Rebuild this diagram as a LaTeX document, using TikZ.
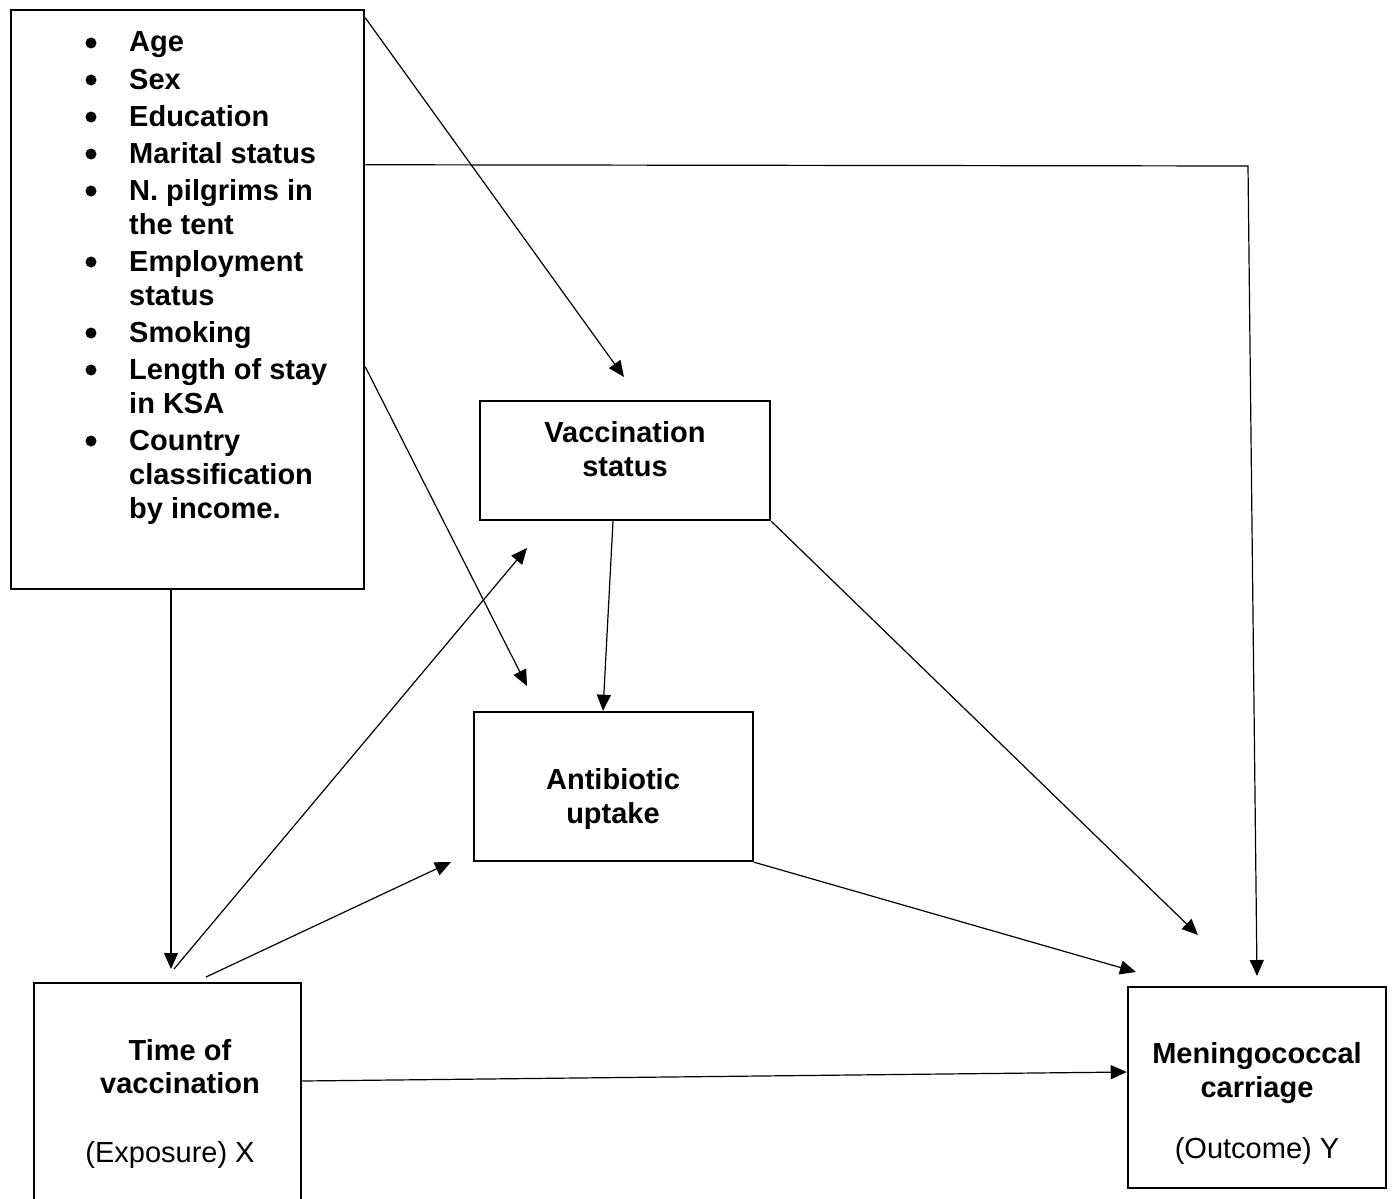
\documentclass[tikz,border=0pt]{standalone}
\usepackage{fontspec}
\setmainfont{Liberation Sans}
\usetikzlibrary{arrows.meta,calc}

\begin{document}
\begin{tikzpicture}[x=1pt,y=-1pt,
  box/.style={draw, line width=2.5pt, inner sep=0pt},
  conn/.style={line width=1.2pt},
  arr/.style={conn, -{Triangle[length=16pt,width=14pt]}},
  lbl/.style={font=\fontsize{29}{34}\selectfont\bfseries, anchor=base, inner sep=0pt},
  sub/.style={font=\fontsize{29}{34}\selectfont, anchor=base, inner sep=0pt},
  itemtext/.style={font=\fontsize{29}{34}\selectfont\bfseries, anchor=base west, inner sep=0pt},
  dot/.style={circle, fill, inner sep=0pt, minimum size=11pt}]

\useasboundingbox (0,0) rectangle (1392,1199);
\clip (0,0) rectangle (1392,1199);

% boxes
\node[box, minimum width=353pt, minimum height=579pt] (cov) at (187.5,299.5) {};
\node[box, minimum width=290pt, minimum height=119pt] (vac) at (625,460.5) {};
\node[box, minimum width=279pt, minimum height=149pt] (abx) at (613.5,786.5) {};
\node[box, minimum width=267pt, minimum height=227pt] (tim) at (167.5,1096.5) {};
\node[box, minimum width=258pt, minimum height=201pt] (men) at (1257,1087.5) {};

% covariate list
\foreach \y/\n in {52/1,89/2,126/3,163/4,200/5,271/6,342/7,379/8,450/9}
  \node[dot] (b\n) at (91,\y-9) {};
\node[itemtext] (i1)  at (129,52)  {Age};
\node[itemtext] (i2)  at (129,89)  {Sex};
\node[itemtext] (i3)  at (129,126) {Education};
\node[itemtext] (i4)  at (129,163) {Marital status};
\node[itemtext] (i5a) at (129,200) {N. pilgrims in};
\node[itemtext] (i5b) at (129,234) {the tent};
\node[itemtext] (i6a) at (129,271) {Employment};
\node[itemtext] (i6b) at (129,305) {status};
\node[itemtext] (i7)  at (129,342) {Smoking};
\node[itemtext] (i8a) at (129,379) {Length of stay};
\node[itemtext] (i8b) at (129,413) {in KSA};
\node[itemtext] (i9a) at (129,450) {Country};
\node[itemtext] (i9b) at (129,484) {classification};
\node[itemtext] (i9c) at (129,518) {by income.};

% box labels
\node[lbl] (vac1) at (625,442) {Vaccination};
\node[lbl] (vac2) at (625,476) {status};
\node[lbl] (abx1) at (613,789) {Antibiotic};
\node[lbl] (abx2) at (613,823) {uptake};
\node[lbl] (tim1) at (180,1060) {Time of};
\node[lbl] (tim2) at (180,1093) {vaccination};
\node[sub] (tim3) at (170,1162) {(Exposure) X};
\node[lbl] (men1) at (1257,1063) {Meningococcal};
\node[lbl] (men2) at (1257,1097) {carriage};
\node[sub] (men3) at (1257,1158) {(Outcome) Y};

% free arrow ends
\coordinate (t1) at (624,377);
\coordinate (bend) at (1248,166);
\coordinate (t2) at (1257,976);
\coordinate (t3) at (527,686);
\coordinate (t4) at (171,969);
\coordinate (s5) at (174,969);
\coordinate (t5) at (527,548);
\coordinate (s6) at (206,977);
\coordinate (t6) at (451,862);
\coordinate (t8) at (1198,935);
\coordinate (t9) at (1136,972);

% connectors
\draw[arr] ($(cov.north east)+(0,9)$) -- (t1);
\draw[arr] ($(cov.north east)+(0,156)$) -- (bend) -- (t2);
\draw[arr] ($(cov.north east)+(0,358)$) -- (t3);
\draw[arr] ($(cov.south)+(-16.5,0)$) -- (t4);
\draw[arr] (s5) -- (t5);
\draw[arr] (s6) -- (t6);
\draw[arr] ($(vac.south)+(-12,0)$) -- ($(abx.north)+(-10.5,0)$);
\draw[arr] (vac.south east) -- (t8);
\draw[arr] (abx.south east) -- (t9);
\draw[arr] ($(tim.east)+(0,-15.5)$) -- ($(men.west)+(0,-15.5)$);
\end{tikzpicture}
\end{document}
